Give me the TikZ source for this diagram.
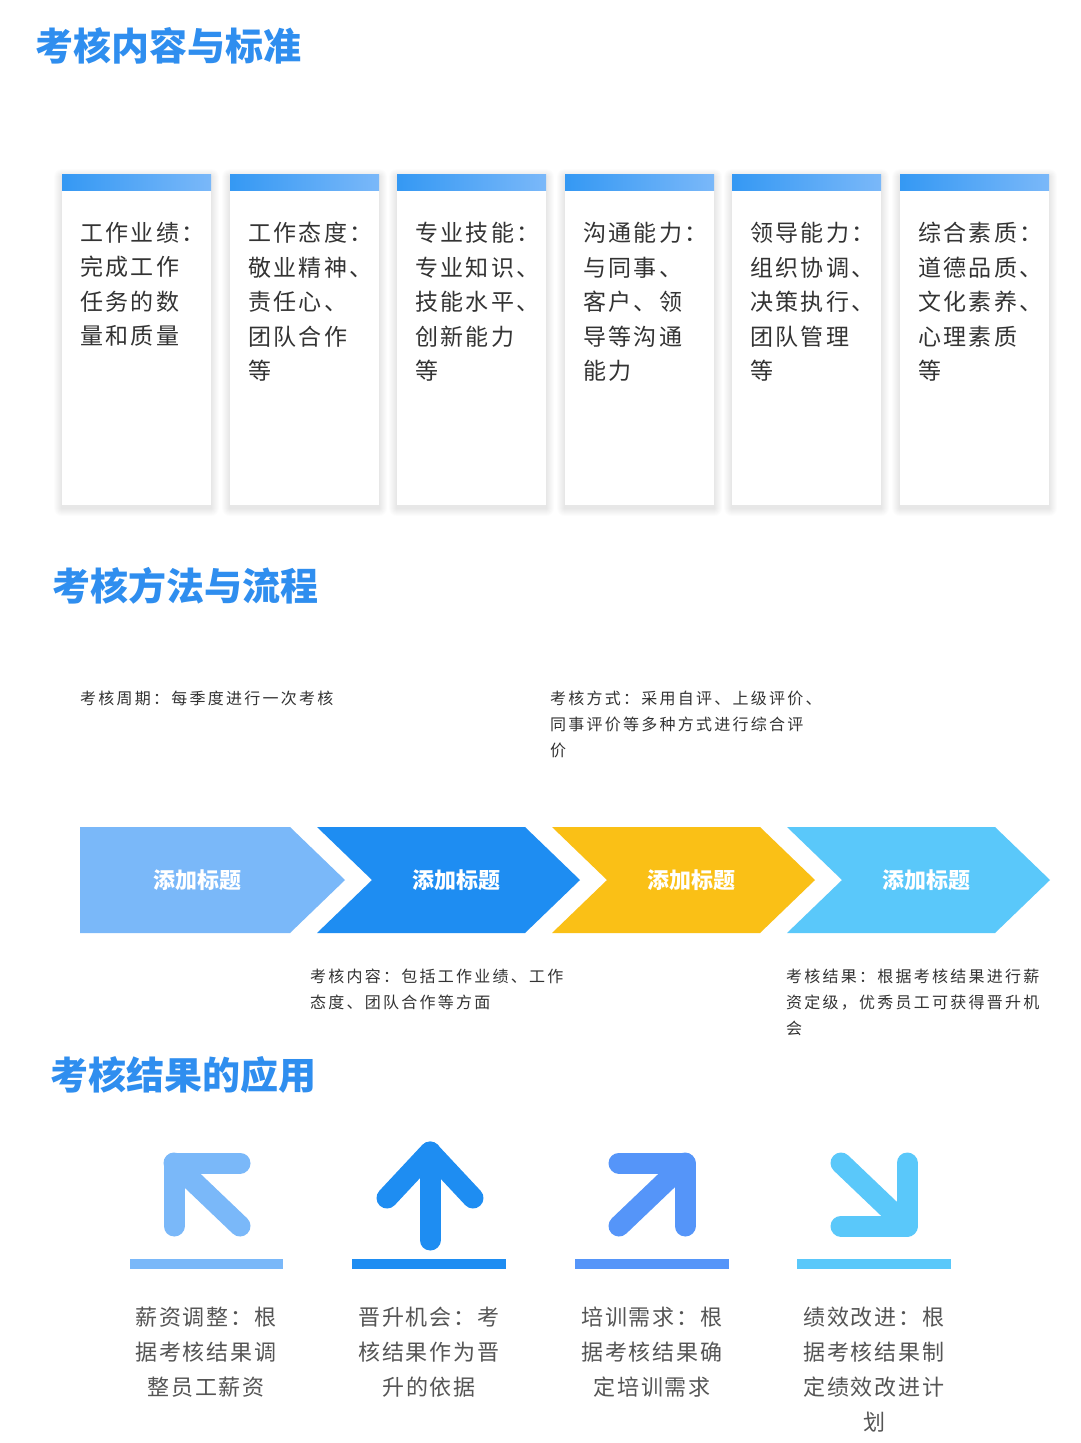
\documentclass[tikz,border=0pt]{standalone}
\usepackage{fontspec}
\setmainfont{Noto Sans CJK SC}
\newfontfamily\cardfont[LetterSpace=10]{Noto Sans CJK SC}
\newfontfamily\smallfont[LetterSpace=14]{Noto Sans CJK SC}
\newfontfamily\botfont[LetterSpace=9]{Noto Sans CJK SC}
\definecolor{tblue}{HTML}{2F8EEF}
\definecolor{ca}{HTML}{7AB8F9}
\definecolor{cb}{HTML}{1E8DF2}
\definecolor{cc}{HTML}{FAC016}
\definecolor{cd}{HTML}{5AC8FA}
\definecolor{ce}{HTML}{5595F9}
\definecolor{txt}{HTML}{333333}
\definecolor{txt2}{HTML}{555555}
\tikzset{
 title/.style={anchor=west,inner sep=0,text=tblue,font=\fontsize{38}{42}\selectfont\bfseries},
 cardtext/.style={anchor=north west,inner sep=0,text=txt,align=left,font=\cardfont\fontsize{23}{34.5}\selectfont},
 small/.style={anchor=north west,inner sep=0,text=txt,align=left,font=\smallfont\fontsize{16}{26}\selectfont},
 bottom/.style={anchor=north,inner sep=0,text=txt2,align=center,font=\botfont\fontsize{22}{35}\selectfont},
 chlabel/.style={text=white,font=\fontsize{22}{24}\selectfont\bfseries,inner sep=0},
 shadowlayer/.style={fill=black,fill opacity=0.012},
 icon/.style={line width=21pt,line cap=round,line join=round},
}
\begin{document}
\begin{tikzpicture}[x=1pt,y=-1pt]
\useasboundingbox[fill=white] (0,0) rectangle (1080,1443);
\node[title] (t1) at (35,46) {考核内容与标准};
\node[title] (t2) at (52,586) {考核方法与流程};
\node[title] (t3) at (50,1075) {考核结果的应用};
% cards
\foreach \x/\txt [count=\i] in {62/{工作业绩：\\完成工作\\任务的数\\量和质量},
 230/{工作态度：\\敬业精神、\\责任心、\\团队合作\\等},
 397/{专业技能：\\专业知识、\\技能水平、\\创新能力\\等},
 565/{沟通能力：\\与同事、\\客户、领\\导等沟通\\能力},
 732/{领导能力：\\组织协调、\\决策执行、\\团队管理\\等},
 900/{综合素质：\\道德品质、\\文化素养、\\心理素质\\等}}{
 \foreach \d in {1,...,8}{\fill[shadowlayer,rounded corners=\d pt] (\x-\d,174-\d+3) rectangle (\x+149+\d,505+\d+3);}
 \fill[white] (\x,174) rectangle (\x+149,505);
 \shade[left color=cb!90!white,right color=ca] (\x,174) rectangle (\x+149,190);
 \node[cardtext] (card\i) at (\x+18,222) {\txt};
}
% small texts
\node[small] (s1) at (80,691) {考核周期：每季度进行一次考核};
\node[small] (s2) at (550,691) {考核方式：采用自评、上级评价、\\同事评价等多种方式进行综合评\\价};
\node[small] (s3) at (310,969) {考核内容：包括工作业绩、工作\\态度、团队合作等方面};
\node[small] (s4) at (786,969) {考核结果：根据考核结果进行薪\\资定级，优秀员工可获得晋升机\\会};
% chevrons
\fill[ca] (80,827) -- (290,827) -- (345,880) -- (290,933) -- (80,933) -- cycle;
\foreach \a/\c in {317/cb,552/cc,787/cd}{
 \fill[\c] (\a,827) -- (\a+208,827) -- (\a+263,880) -- (\a+208,933) -- (\a,933) -- (\a+55,880) -- cycle;
}
\node[chlabel] (h1) at (197,880) {添加标题};
\node[chlabel] (h2) at (456,880) {添加标题};
\node[chlabel] (h3) at (691,880) {添加标题};
\node[chlabel] (h4) at (926,880) {添加标题};
% icons
\draw[icon,ca] (240,1163) -- (174,1163) -- (174,1226);
\draw[icon,ca] (174,1163) -- (240,1226);
\draw[icon,cb] (430,1240) -- (430,1152);
\draw[icon,cb] (387,1198) -- (430,1152) -- (473,1198);
\draw[icon,ce] (619,1163) -- (685,1163) -- (685,1226);
\draw[icon,ce] (685,1163) -- (619,1226);
\draw[icon,cd] (841,1226) -- (907,1226) -- (907,1163);
\draw[icon,cd] (907,1226) -- (841,1163);
\fill[ca] (130,1259) rectangle (283,1269);
\fill[cb] (352,1259) rectangle (506,1269);
\fill[ce] (575,1259) rectangle (729,1269);
\fill[cd] (797,1259) rectangle (951,1269);
\node[bottom] (b1) at (206,1307) {薪资调整：根\\据考核结果调\\整员工薪资};
\node[bottom] (b2) at (429,1307) {晋升机会：考\\核结果作为晋\\升的依据};
\node[bottom] (b3) at (652,1307) {培训需求：根\\据考核结果确\\定培训需求};
\node[bottom] (b4) at (874,1307) {绩效改进：根\\据考核结果制\\定绩效改进计\\划};
\end{tikzpicture}
\end{document}
